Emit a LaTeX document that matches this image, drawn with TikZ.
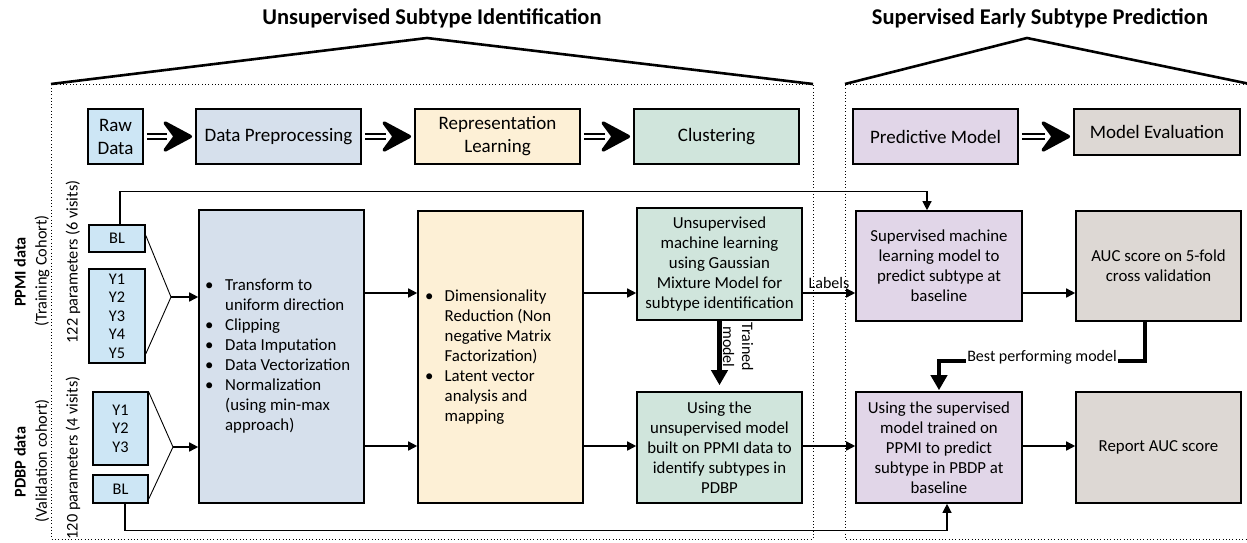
\documentclass[tikz,border=0pt]{standalone}
\usepackage{fontspec}
\setmainfont{Carlito}
\usetikzlibrary{arrows.meta,calc}
\definecolor{cblue}{RGB}{205,230,245}
\definecolor{csteel}{RGB}{214,224,236}
\definecolor{ccream}{RGB}{253,240,214}
\definecolor{cmint}{RGB}{208,229,220}
\definecolor{clav}{RGB}{225,214,232}
\definecolor{cgray}{RGB}{221,216,212}
\newcommand{\myTop}{\fontsize{19}{23}\selectfont}
\newcommand{\myBody}{\fontsize{16.8}{20}\selectfont}
\newcommand{\mySide}{\fontsize{16.3}{20}\selectfont}
\newcommand{\myY}{\fontsize{16.3}{18.5}\selectfont}
\newcommand{\mySmall}{\fontsize{16}{19}\selectfont}
\newcommand{\myTitle}{\fontsize{22.5}{26}\selectfont\bfseries}
\tikzset{
  box/.style={draw=black, line width=1.6pt, inner sep=0pt, align=center},
  topbox/.style={box, font=\myTop},
  bodybox/.style={box, font=\myBody},
  roof/.style={line width=2.6pt, line join=miter},
  dotbox/.style={line width=0.9pt, dash pattern=on 0.9pt off 2.4pt},
  conn/.style={line width=1.2pt},
  arr/.style={line width=1.5pt, -{Triangle[length=9pt,width=9pt]}},
  fan/.style={line width=0.9pt},
  dshaft/.style={draw=black, line width=1.6pt, double=white, double distance=3.4pt},
  fathead/.pic={\filldraw[line width=3.4pt, line join=round]
      (-1.8,0) -- (-27,-13.5) -- (-17,0) -- (-27,13.5) -- cycle;},
  thickarr/.style={line width=4.5pt, -{Triangle[length=15pt,width=16pt]}},
  sidelabel/.style={rotate=90, font=\mySide, inner sep=0pt},
}
\begin{document}
\begin{tikzpicture}[x=1pt,y=-1pt]
\useasboundingbox (0,0) rectangle (1247,542);

% titles and roofs
\node[font=\myTitle] (t1) at (432,18) {Unsupervised Subtype Identification};
\node[font=\myTitle] (t2) at (1040,18) {Supervised Early Subtype Prediction};
\draw[roof] (51,84) -- (427,38) -- (813,84);
\draw[roof] (845,84) -- (1027,38) -- (1250,84);
\draw[dotbox] (813,84) -- (51,84) -- (51,539) -- (813,539) -- cycle;
\draw[dotbox] (1250,84) -- (845,84) -- (845,539) -- (1250,539);

% top row
\node[topbox, fill=cblue, minimum width=55, minimum height=55] (raw) at (115.5,136.5) {Raw\\Data};
\node[topbox, fill=csteel, minimum width=165, minimum height=55] (dpre) at (278.5,136.5) {Data Preprocessing};
\node[topbox, fill=ccream, minimum width=165, minimum height=55] (rlearn) at (497.5,136.5) {Representation\\Learning};
\node[topbox, fill=cmint, minimum width=165, minimum height=55] (clust) at (716.5,136.5) {Clustering};
\node[topbox, fill=clav, minimum width=165, minimum height=55] (pred) at (935.5,136.5) {Predictive Model};
\node[topbox, fill=cgray, minimum width=166, minimum height=46] (meval) at (1157,132) {Model Evaluation};

\foreach \a/\b in {raw/dpre, dpre/rlearn, rlearn/clust, pred/meval}{
  \draw[dshaft] ($(\a.east)+(3,0)$) -- ($(\b.west |- \a.east)+(-28,0)$);
  \pic at ($(\b.west |- \a.east)+(-3,0)$) {fathead};
}

% side labels
\node[sidelabel, font=\mySide\bfseries] (ppmi) at (20,272) {PPMI data};
\node[sidelabel] (train) at (42,271) {(Training Cohort)};
\node[sidelabel] (p122) at (73,262) {122 parameters (6 visits)};
\node[sidelabel, font=\mySide\bfseries] (pdbp) at (20,462) {PDBP data};
\node[sidelabel] (valid) at (42,461) {(Validation cohort)};
\node[sidelabel] (p120) at (73,458) {120 parameters (4 visits)};

% input boxes
\node[box, font=\myY, fill=cblue, minimum width=56, minimum height=27] (bl1) at (117,238.5) {BL};
\node[box, font=\myY, fill=cblue, minimum width=56, minimum height=94] (yb1) at (117,316) {Y1\\Y2\\Y3\\Y4\\Y5};
\node[box, font=\myY, fill=cblue, minimum width=55, minimum height=73] (yb2) at (120.5,428.5) {Y1\\Y2\\Y3};
\node[box, font=\myY, fill=cblue, minimum width=55, minimum height=28] (bl2) at (120.5,489) {BL};

% main boxes
\node[box, fill=csteel, minimum width=165, minimum height=293] (prep) at (281.5,356.5) {};
\node[anchor=north west, inner sep=0pt, font=\myBody] (preptext) at (205,276)
  {\begin{tabular}{@{}p{20pt}@{}l@{}}
   \textbullet & Transform to\\
               & uniform direction\\
   \textbullet & Clipping\\
   \textbullet & Data Imputation\\
   \textbullet & Data Vectorization\\
   \textbullet & Normalization\\
               & (using min-max\\
               & approach)
   \end{tabular}};
\node[box, fill=ccream, minimum width=165, minimum height=292] (rep) at (500.5,357) {};
\node[anchor=north west, inner sep=0pt, font=\myBody] (reptext) at (425,287)
  {\begin{tabular}{@{}p{19.5pt}@{}l@{}}
   \textbullet & Dimensionality\\
               & Reduction (Non\\
               & negative Matrix\\
               & Factorization)\\
   \textbullet & Latent vector\\
               & analysis and\\
               & mapping
   \end{tabular}};
\node[bodybox, fill=cmint, minimum width=165, minimum height=112] (uc1) at (719.5,264)
  {Unsupervised\\machine learning\\using Gaussian\\Mixture Model for\\subtype identification};
\node[bodybox, fill=cmint, minimum width=165, minimum height=111] (uc2) at (719.5,447.5)
  {Using the\\unsupervised model\\built on PPMI data to\\identify subtypes in\\PDBP};
\node[bodybox, fill=clav, minimum width=166, minimum height=110] (sup1) at (939,266)
  {Supervised machine\\learning model to\\predict subtype at\\baseline};
\node[bodybox, fill=cgray, minimum width=165, minimum height=110] (auc) at (1158.5,266)
  {AUC score on 5-fold\\cross validation};
\node[bodybox, fill=clav, minimum width=166, minimum height=111] (sup2) at (939,447.5)
  {Using the supervised\\model trained on\\PPMI to predict\\subtype in PBDP at\\baseline};
\node[bodybox, fill=cgray, minimum width=165, minimum height=111] (rauc) at (1158.5,447.5)
  {Report AUC score};

% row levels
\coordinate (r1) at (0,293);
\coordinate (r2) at (0,446);
\coordinate (fan1) at (171,297);
\coordinate (fan2) at (173,447);

% fans
\draw[fan] ($(bl1.east)+(0,-3)$) -- (fan1) -- ($(yb1.south east)+(0,-10)$);
\draw[arr] (fan1) -- (prep.west |- fan1);
\draw[fan] ($(yb2.north east)+(0,1)$) -- (fan2) -- ($(bl2.south east)+(0,-5)$);
\draw[arr] (fan2) -- (prep.west |- fan2);

% horizontal flow
\draw[arr] (prep.east |- r1) -- (rep.west |- r1);
\draw[arr] (prep.east |- r2) -- (rep.west |- r2);
\draw[arr] (rep.east |- r1) -- (uc1.west |- r1);
\draw[arr] (rep.east |- r2) -- (uc2.west |- r2);
\draw[arr] (uc1.east |- r1) -- (sup1.west |- r1) node[pos=0.5, above=3pt, font=\mySmall, inner sep=1pt] (lab) {Labels};
\draw[arr] (uc2.east |- r2) -- (sup2.west |- r2);
\draw[arr] (sup1.east |- r1) -- (auc.west |- r1);
\draw[arr] (sup2.east |- r2) -- (rauc.west |- r2);

% trained model
\draw[thickarr, line width=5pt, shorten >=6pt] (uc1.south) -- (uc2.north);
\node[rotate=-90, font=\mySmall, align=center, inner sep=0pt] (trl) at (738,347) {Trained\\model};

% best performing model
\draw[thickarr, line width=4pt] ($(auc.south)+(-13.5,0)$) |- ($(sup2.north)+(0,-30)$) -- ($(sup2.north)+(0,-1)$);
\node[fill=white, font=\mySmall, inner sep=1pt] (best) at (1042,357) {Best performing model};

% baseline bypass lines
\draw[conn, -{Triangle[length=9pt,width=9pt]}] ($(bl1.north)+(3,0)$) |- ($(sup1.north)+(-12,-19)$) -- ($(sup1.north)+(-12,0)$);
\draw[conn, -{Triangle[length=9pt,width=9pt]}] ($(bl2.south)+(4.5,0)$) |- ($(sup2.south)+(8,27)$) -- ($(sup2.south)+(8,0)$);
\end{tikzpicture}
\end{document}
